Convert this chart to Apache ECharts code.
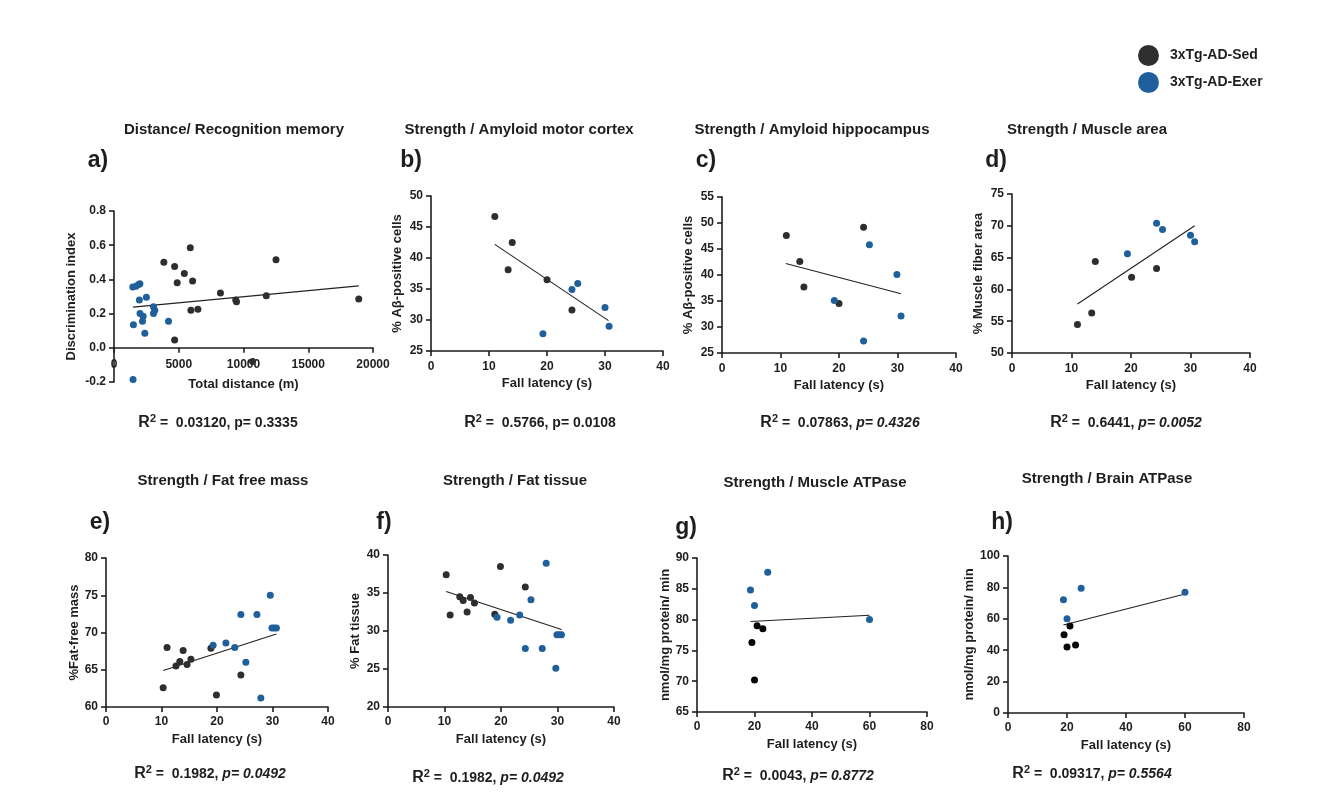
<!DOCTYPE html>
<html>
<head>
<meta charset="utf-8">
<script src="https://cdn.jsdelivr.net/npm/echarts@6/dist/echarts.min.js"></script>
<style>
  html, body { margin: 0; background: #fff; }
  #chart { width: 1328px; height: 798px; }
</style>
</head>
<body>
<div id="chart"></div>
<script>
// a) distance vs discrimination index
const sedA = [[3850, 0.5], [4680, 0.475], [5890, 0.585], [5430, 0.435], [4880, 0.38], [6070, 0.39], [8220, 0.32], [9400, 0.28], [9460, 0.27], [11760, 0.305], [12510, 0.515], [18900, 0.285], [5940, 0.22], [6480, 0.225], [4680, 0.045], [10700, -0.08]]
const exerA = [[1450, 0.355], [1700, 0.36], [1900, 0.37], [2000, 0.375], [1960, 0.28], [2500, 0.295], [3050, 0.24], [3150, 0.22], [3050, 0.2], [2010, 0.2], [2250, 0.185], [2200, 0.155], [1500, 0.135], [4210, 0.155], [2380, 0.085], [1470, -0.185]]
const fitA = [[1470, 0.238], [18900, 0.362]]

// b) amyloid motor cortex
const sedB = [[11, 46.7], [14, 42.5], [13.3, 38.1], [20, 36.5], [24.3, 31.6]]
const exerB = [[24.3, 34.9], [25.3, 35.9], [30, 32], [30.7, 29], [19.3, 27.8]]
const fitB = [[11, 42.2], [30.6, 29.9]]

// c) amyloid hippocampus
const sedC = [[11, 47.6], [13.3, 42.6], [14, 37.7], [20, 34.5], [24.2, 49.2]]
const exerC = [[19.2, 35.1], [25.2, 45.8], [29.9, 40.1], [30.6, 32.1], [24.2, 27.3]]
const fitC = [[10.9, 42.2], [30.6, 36.4]]

// d) muscle area
const sedD = [[11, 54.5], [13.4, 56.3], [14, 64.4], [20.1, 61.9], [24.3, 63.3]]
const exerD = [[19.4, 65.6], [24.3, 70.4], [25.3, 69.4], [30, 68.5], [30.7, 67.5]]
const fitD = [[11, 57.7], [30.7, 70]]

// e) fat free mass
const sedE = [[10.3, 62.6], [11, 68], [12.6, 65.5], [13.3, 66.1], [13.9, 67.6], [14.6, 65.7], [15.3, 66.4], [18.9, 67.9], [19.9, 61.6], [24.3, 64.3]]
const exerE = [[19.3, 68.3], [21.6, 68.6], [23.2, 68], [24.3, 72.4], [25.2, 66], [27.2, 72.4], [27.9, 61.2], [29.6, 75], [29.9, 70.6], [30.3, 70.6], [30.7, 70.6]]
const fitE = [[10.3, 64.9], [30.7, 69.8]]

// f) fat tissue
const sedF = [[10.3, 37.4], [11, 32.1], [12.7, 34.5], [13.3, 34], [14, 32.5], [14.6, 34.4], [15.3, 33.7], [18.9, 32.2], [19.9, 38.5], [24.3, 35.8]]
const exerF = [[19.3, 31.8], [21.7, 31.4], [23.3, 32.1], [24.3, 27.7], [25.3, 34.1], [27.3, 27.7], [28, 38.9], [29.7, 25.1], [29.9, 29.5], [30.3, 29.5], [30.7, 29.5]]
const fitF = [[10.3, 35.2], [30.7, 30.2]]

// g) muscle ATPase
const sedG = [[19.1, 76.3], [20, 70.2], [20.9, 79], [22.9, 78.5]]
const exerG = [[18.6, 84.8], [20, 82.3], [24.6, 87.7], [60, 80]]
const fitG = [[18.6, 79.7], [60, 80.7]]

// h) brain ATPase
const sedH = [[19, 49.9], [20, 42], [21, 55.4], [22.9, 43.3]]
const exerH = [[18.8, 72.2], [20, 60.1], [24.8, 79.4], [60, 76.9]]
const fitH = [[18.8, 56], [60, 75.8]]

const groups = ['3xTg-AD-Sed', '3xTg-AD-Exer']
const titles = ['Distance/ Recognition memory', 'Strength / Amyloid motor cortex', 'Strength / Amyloid hippocampus', 'Strength / Muscle area',
  'Strength / Fat free mass', 'Strength / Fat tissue', 'Strength / Muscle ATPase', 'Strength / Brain ATPase']
const letters = ['a)', 'b)', 'c)', 'd)', 'e)', 'f)', 'g)', 'h)']
const r2Values = ['0.03120', '0.5766', '0.07863', '0.6441', '0.1982', '0.1982', '0.0043', '0.09317']
const pValues = ['0.3335', '0.0108', '0.4326', '0.0052', '0.0492', '0.0492', '0.8772', '0.5564']
// [min, max, interval]
const xRanges = [[0, 20000, 5000], [0, 40, 10], [0, 40, 10], [0, 40, 10], [0, 40, 10], [0, 40, 10], [0, 80, 20], [0, 80, 20]]
const yRanges = [[-0.2, 0.8, 0.2], [25, 50, 5], [25, 55, 5], [50, 75, 5], [60, 80, 5], [20, 40, 5], [65, 90, 5], [0, 100, 20]]
const xNames = ['Total distance (m)', 'Fall latency (s)', 'Fall latency (s)', 'Fall latency (s)', 'Fall latency (s)', 'Fall latency (s)', 'Fall latency (s)', 'Fall latency (s)']
const yNames = ['Discrimination index', '% A\u03b2-positive cells', '% A\u03b2-positive cells', '% Muscle fiber area', '%Fat-free mass', '% Fat tissue', 'nmol/mg protein/ min', 'nmol/mg protein/ min']

const sedData = [sedA, sedB, sedC, sedD, sedE, sedF, sedG, sedH]
const exerData = [exerA, exerB, exerC, exerD, exerE, exerF, exerG, exerH]
const fitData = [fitA, fitB, fitC, fitD, fitE, fitF, fitG, fitH]

// layout of each panel: plot box, text anchors
const layout = [
  { grid: [114, 211, 259, 171], title: [234, 130], letter: [98, 161], stat: [218, 423], xMargin: 11, xGap: 30, yGap: 36 },
  { grid: [431, 196, 232, 155], title: [519, 130], letter: [411, 161], stat: [540, 423], xMargin: 10, xGap: 26, yGap: 27 },
  { grid: [722, 197, 234, 156], title: [812, 130], letter: [706, 161], stat: [840, 423], xMargin: 10, xGap: 26, yGap: 27 },
  { grid: [1012, 194, 238, 159], title: [1087, 130], letter: [996, 161], stat: [1126, 423], xMargin: 10, xGap: 26, yGap: 27 },
  { grid: [106, 558, 222, 149], title: [223, 481], letter: [100, 523], stat: [210, 774], xMargin: 9, xGap: 26, yGap: 24 },
  { grid: [388, 555, 226, 152], title: [515, 481], letter: [384, 523], stat: [488, 778], xMargin: 9, xGap: 26, yGap: 26 },
  { grid: [697, 558, 230, 154], title: [815, 483], letter: [686, 528], stat: [798, 776], xMargin: 9, xGap: 26, yGap: 25 },
  { grid: [1008, 556, 236, 157], title: [1107, 479], letter: [1002, 523], stat: [1092, 774], xMargin: 9, xGap: 26, yGap: 32 },
]

const font = 'Liberation Sans, Arial, Helvetica, sans-serif'
const ink = '#1e1e1e'
const sedColors = ['#2e2e2e', '#2e2e2e', '#2e2e2e', '#2e2e2e', '#2e2e2e', '#2e2e2e', '#050505', '#050505']
const exerColor = '#1f5f9c'

const axisCommon = {
  axisLine: { onZero: false, lineStyle: { color: ink, width: 1.6 } },
  axisTick: { show: true, length: 5, lineStyle: { color: ink, width: 1.6 } },
  axisLabel: { color: ink, fontSize: 12, fontWeight: 'bold', fontFamily: font },
  splitLine: { show: false },
  nameLocation: 'middle',
  nameTextStyle: { color: ink, fontSize: 13, fontWeight: 'bold', fontFamily: font },
}

const grids = []
const xAxes = []
const yAxes = []
const series = []
const graphics = []

layout.forEach((p, i) => {
  const [l, t, w, h] = p.grid
  const [ymin, ymax] = yRanges[i]
  // x axis crosses the y axis at zero when zero lies inside the y range
  const zeroOffset = ymin < 0 ? -h * (0 - ymin) / (ymax - ymin) : 0
  grids.push({ left: l, top: t, width: w, height: h, containLabel: false })
  xAxes.push({
    ...axisCommon,
    gridIndex: i,
    type: 'value',
    min: xRanges[i][0],
    max: xRanges[i][1],
    interval: xRanges[i][2],
    offset: zeroOffset,
    name: xNames[i],
    nameGap: p.xGap,
    axisLabel: { ...axisCommon.axisLabel, margin: p.xMargin, formatter: (v) => String(v) },
  })
  yAxes.push({
    ...axisCommon,
    gridIndex: i,
    type: 'value',
    min: ymin,
    max: ymax,
    interval: yRanges[i][2],
    name: yNames[i],
    nameGap: p.yGap,
    axisLabel: {
      ...axisCommon.axisLabel,
      margin: 8,
      formatter: i === 0 ? (v) => v.toFixed(1) : (v) => String(v),
    },
  })

  series.push({
    type: 'line',
    xAxisIndex: i,
    yAxisIndex: i,
    data: fitData[i],
    symbol: 'none',
    silent: true,
    lineStyle: { color: '#222', width: 1.1 },
    z: 1,
  })
  series.push({
    name: groups[0],
    type: 'scatter',
    xAxisIndex: i,
    yAxisIndex: i,
    data: sedData[i],
    symbolSize: 7,
    itemStyle: { color: sedColors[i], opacity: 1 },
    z: 3,
  })
  series.push({
    name: groups[1],
    type: 'scatter',
    xAxisIndex: i,
    yAxisIndex: i,
    data: exerData[i],
    symbolSize: 7,
    itemStyle: { color: exerColor, opacity: 1 },
    z: 3,
  })

  graphics.push({
    type: 'text',
    x: p.title[0],
    y: p.title[1],
    style: {
      text: titles[i],
      fontSize: 15,
      fontWeight: 'bold',
      fontFamily: font,
      fill: ink,
      align: 'center',
      verticalAlign: 'middle',
    },
  })
  graphics.push({
    type: 'text',
    x: p.letter[0],
    y: p.letter[1],
    style: {
      text: letters[i],
      fontSize: 23,
      fontWeight: 'bold',
      fontFamily: font,
      fill: ink,
      align: 'center',
      verticalAlign: 'middle',
    },
  })
  const italic = i >= 2
  const statText = italic
    ? `{r|R}{s|2}{t| =  ${r2Values[i]}, }{i|p= ${pValues[i]}}`
    : `{r|R}{s|2}{t| =  ${r2Values[i]}, p= ${pValues[i]}}`
  graphics.push({
    type: 'text',
    x: p.stat[0],
    y: p.stat[1],
    style: {
      text: statText,
      align: 'center',
      verticalAlign: 'middle',
      fill: ink,
      rich: {
        r: { fontSize: 16, fontWeight: 'bold', fontFamily: font, fill: ink, lineHeight: 20 },
        s: { fontSize: 11, fontWeight: 'bold', fontFamily: font, fill: ink, verticalAlign: 'top', lineHeight: 12 },
        t: { fontSize: 14, fontWeight: 'bold', fontFamily: font, fill: ink, lineHeight: 20 },
        i: { fontSize: 14, fontWeight: 'bold', fontStyle: 'italic', fontFamily: font, fill: ink, lineHeight: 20 },
      },
    },
  })
})

const chart = echarts.init(document.getElementById('chart'))
chart.setOption({
  animation: false,
  backgroundColor: '#fff',
  legend: {
    data: groups,
    orient: 'vertical',
    left: 1133,
    top: 40,
    icon: 'circle',
    itemWidth: 21,
    itemHeight: 21,
    itemGap: 6,
    textStyle: { color: ink, fontSize: 14, fontWeight: 'bold', fontFamily: font, padding: [0, 0, 0, 6] },
  },
  grid: grids,
  xAxis: xAxes,
  yAxis: yAxes,
  series,
  graphic: graphics,
})
</script>
</body>
</html>
